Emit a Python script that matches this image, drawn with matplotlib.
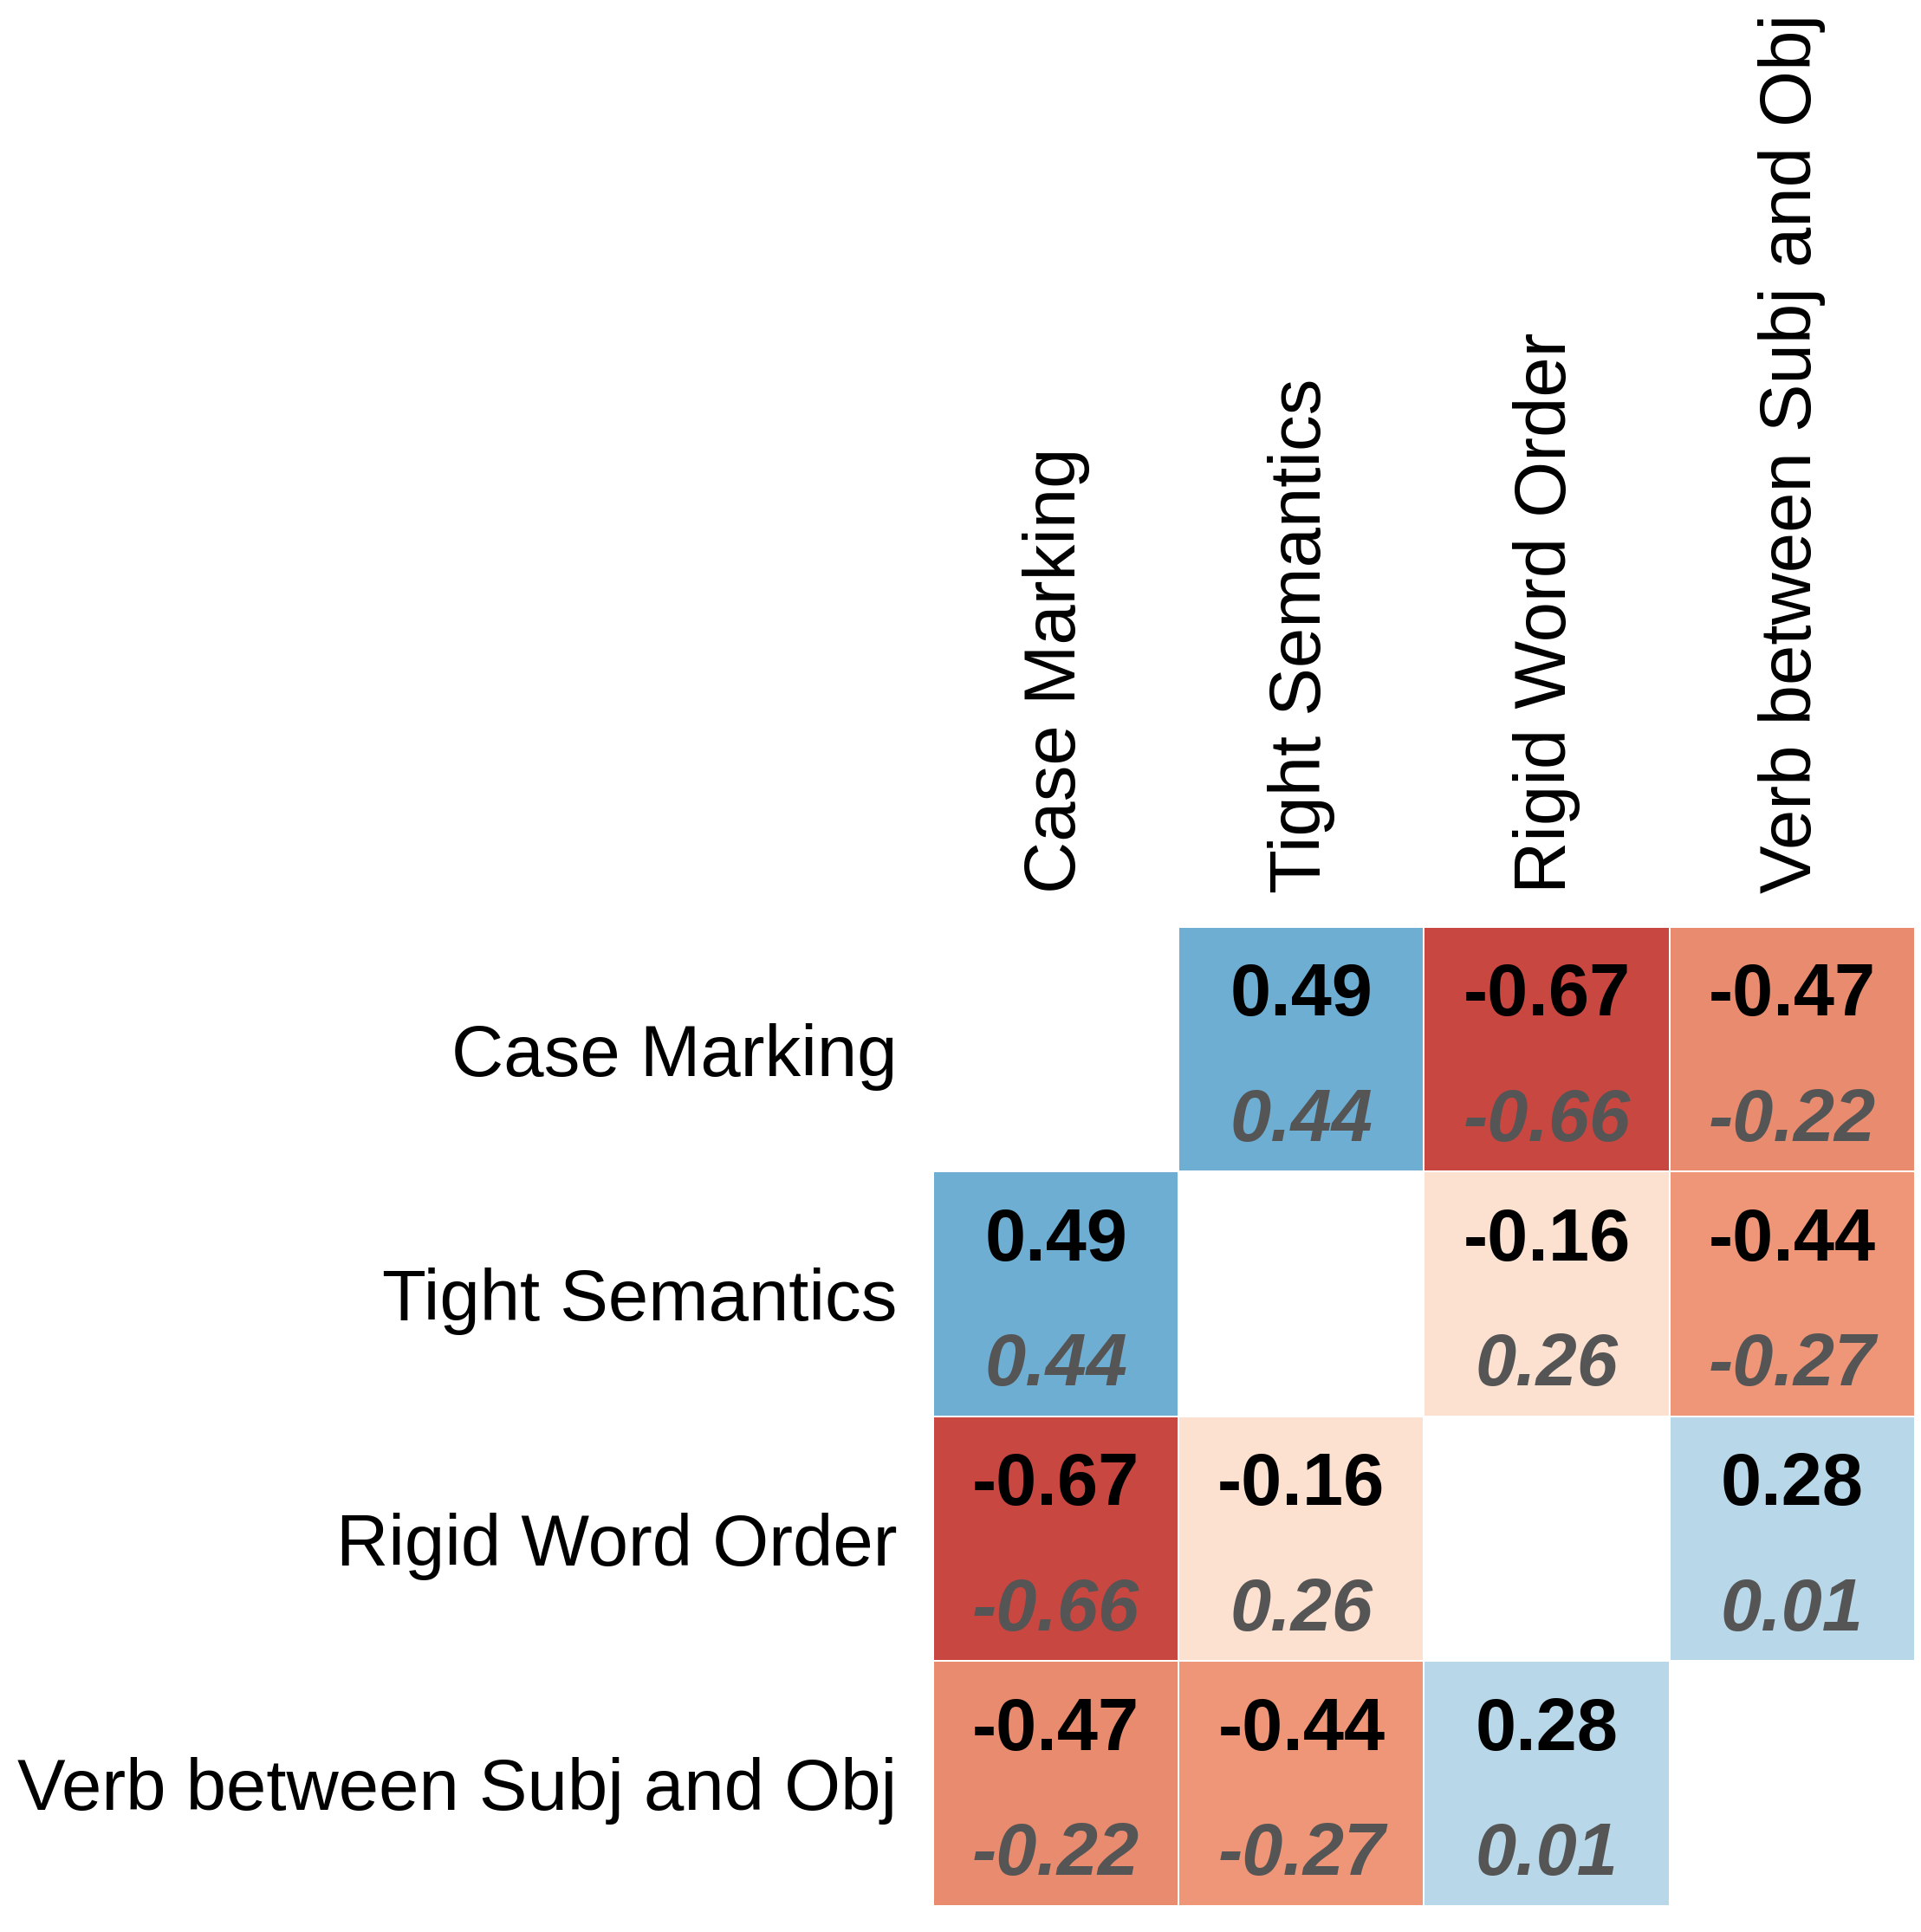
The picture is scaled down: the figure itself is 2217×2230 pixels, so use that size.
import matplotlib.pyplot as plt
import numpy as np

plt.rcParams['font.family'] = ['Liberation Sans', 'DejaVu Sans']

# variables, in row/column order
labels = ['Case Marking', 'Tight Semantics', 'Rigid Word Order',
          'Verb between Subj and Obj']

# pairs (i, j) of the upper triangle
pairs = [(0, 1), (0, 2), (0, 3), (1, 2), (1, 3), (2, 3)]
# upper number in each cell (drives the colour)
top_vals = [0.49, -0.67, -0.47, -0.16, -0.44, 0.28]
# lower, italic number in each cell
bottom_vals = [0.44, -0.66, -0.22, 0.26, -0.27, 0.01]

n = len(labels)
top = np.full((n, n), np.nan)
bot = np.full((n, n), np.nan)
for (i, j), t, b in zip(pairs, top_vals, bottom_vals):
    top[i, j] = top[j, i] = t
    bot[i, j] = bot[j, i] = b

fig = plt.figure(figsize=(22.17, 22.30), dpi=100)
ax = fig.add_axes([0.4858, 0.0135, 0.511, 0.5067])

ax.pcolormesh(np.ma.masked_invalid(top), cmap='RdBu', vmin=-1, vmax=1,
              edgecolor='white', linewidth=0.3)
ax.set_xlim(0, n)
ax.set_ylim(n, 0)

for i in range(n):
    for j in range(n):
        if np.isnan(top[i, j]):
            continue
        ax.text(j + 0.5, i + 0.285, f'{top[i, j]:.2f}', ha='center', va='center',
                fontsize=61, fontweight='bold', color='black')
        ax.text(j + 0.5, i + 0.795, f'{bot[i, j]:.2f}', ha='center', va='center',
                fontsize=61, fontweight='bold', fontstyle='italic', color='#555555')

ax.set_xticks(np.arange(n) + 0.5)
ax.set_xticklabels(labels, rotation=90, fontsize=60)
ax.set_yticks(np.arange(n) + 0.5)
ax.set_yticklabels(labels, fontsize=60)
ax.xaxis.tick_top()
ax.tick_params(axis='x', length=0, pad=28)
ax.tick_params(axis='y', length=0, pad=30)
for s in ax.spines.values():
    s.set_visible(False)

plt.savefig('out.png', dpi=100)
